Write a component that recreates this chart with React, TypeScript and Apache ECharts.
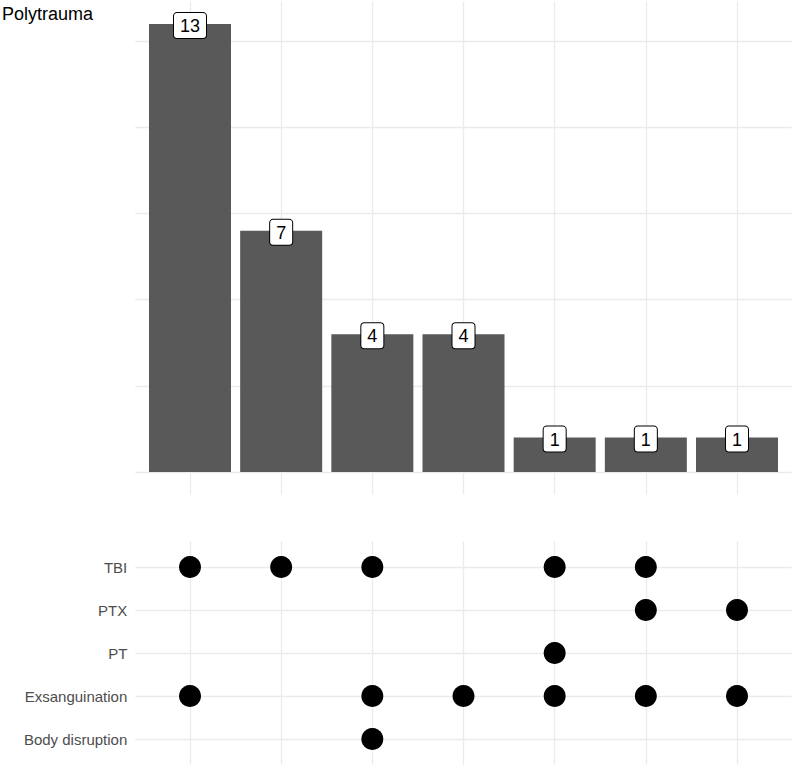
import React, { useEffect, useRef } from "react";
import * as echarts from "echarts";

const intersections = ["I1", "I2", "I3", "I4", "I5", "I6", "I7"];
const counts = [13, 7, 4, 4, 1, 1, 1];
const setNames = ["Body disruption", "Exsanguination", "PT", "PTX", "TBI"];
const memberships: string[][] = [
  ["TBI", "Exsanguination"],
  ["TBI"],
  ["TBI", "Exsanguination", "Body disruption"],
  ["Exsanguination"],
  ["TBI", "PT", "Exsanguination"],
  ["TBI", "PTX", "Exsanguination"],
  ["PTX", "Exsanguination"],
];
const yGridValues = [0, 2.5, 5, 7.5, 10, 12.5];
const title = "Polytrauma";

const FONT = "Liberation Sans, Arial, sans-serif";
const GRID_COLOR = "#EBEBEB";

export default function App() {
  const ref = useRef<HTMLDivElement>(null);
  useEffect(() => {
    if (!ref.current) return;
    const chart = echarts.init(ref.current, null, { renderer: "svg" });
    const xPos = intersections.map((_, i) => i + 1);
    const lineStyle = { color: GRID_COLOR, width: 1.3, type: "solid" as const };
    const dots: number[][] = [];
    memberships.forEach((m, i) => {
      m.forEach((s) => dots.push([i + 1, setNames.indexOf(s) + 1]));
    });
    chart.setOption({
      animation: false,
      textStyle: { fontFamily: FONT },
      title: {
        text: title,
        left: 2,
        top: 5,
        padding: 0,
        textStyle: { fontSize: 18, fontWeight: "normal", color: "#000", fontFamily: FONT },
      },
      grid: [
        { left: 135.3, width: 656.4, top: 1.6, height: 492.8 },
        { left: 135.3, width: 656.4, top: 541.2, height: 223.6 },
      ],
      xAxis: [
        { type: "value", gridIndex: 0, min: 0.4, max: 7.6, show: false },
        { type: "value", gridIndex: 1, min: 0.4, max: 7.6, show: false },
      ],
      yAxis: [
        { type: "value", gridIndex: 0, min: -0.65, max: 13.65, show: false },
        {
          type: "value",
          gridIndex: 1,
          min: 0.4,
          max: 5.6,
          axisLine: { show: false },
          axisTick: { show: false },
          splitLine: { show: false },
          axisLabel: {
            customValues: [1, 2, 3, 4, 5],
            formatter: (v: number) => setNames[Math.round(v) - 1] ?? "",
            color: "#4D4D4D",
            fontSize: 15,
            margin: 8,
            fontFamily: FONT,
          },
        },
      ],
      series: [
        {
          type: "scatter",
          xAxisIndex: 0,
          yAxisIndex: 0,
          data: [],
          z: 0,
          silent: true,
          markLine: {
            z: 0,
            silent: true,
            symbol: "none",
            label: { show: false },
            lineStyle,
            data: [
              ...xPos.map((x) => ({ xAxis: x })),
              ...yGridValues.map((y) => ({ yAxis: y })),
            ],
          },
        },
        {
          type: "scatter",
          xAxisIndex: 1,
          yAxisIndex: 1,
          data: [],
          z: 0,
          silent: true,
          markLine: {
            z: 0,
            silent: true,
            symbol: "none",
            label: { show: false },
            lineStyle,
            data: [
              ...xPos.map((x) => ({ xAxis: x })),
              ...setNames.map((_, i) => ({ yAxis: i + 1 })),
            ],
          },
        },
        {
          type: "bar",
          xAxisIndex: 0,
          yAxisIndex: 0,
          z: 5,
          barWidth: 82,
          data: counts.map((c, i) => [i + 1, c]),
          itemStyle: { color: "#595959" },
          label: {
            show: true,
            position: "top",
            distance: -14,
            formatter: (p: any) => String(p.value[1]),
            color: "#000",
            fontSize: 18,
            lineHeight: 18,
            fontFamily: FONT,
            backgroundColor: "#fff",
            borderColor: "#000",
            borderWidth: 1,
            borderRadius: 3,
            padding: [4, 6, 3, 6],
          },
        },
        {
          type: "scatter",
          xAxisIndex: 1,
          yAxisIndex: 1,
          z: 5,
          symbolSize: 22,
          itemStyle: { color: "#000", opacity: 1 },
          data: dots,
        },
      ],
    });
    return () => chart.dispose();
  }, []);
  return (
    <div
      ref={ref}
      style={{ position: "fixed", left: 0, top: 0, width: 794, height: 767, background: "#fff" }}
    />
  );
}
